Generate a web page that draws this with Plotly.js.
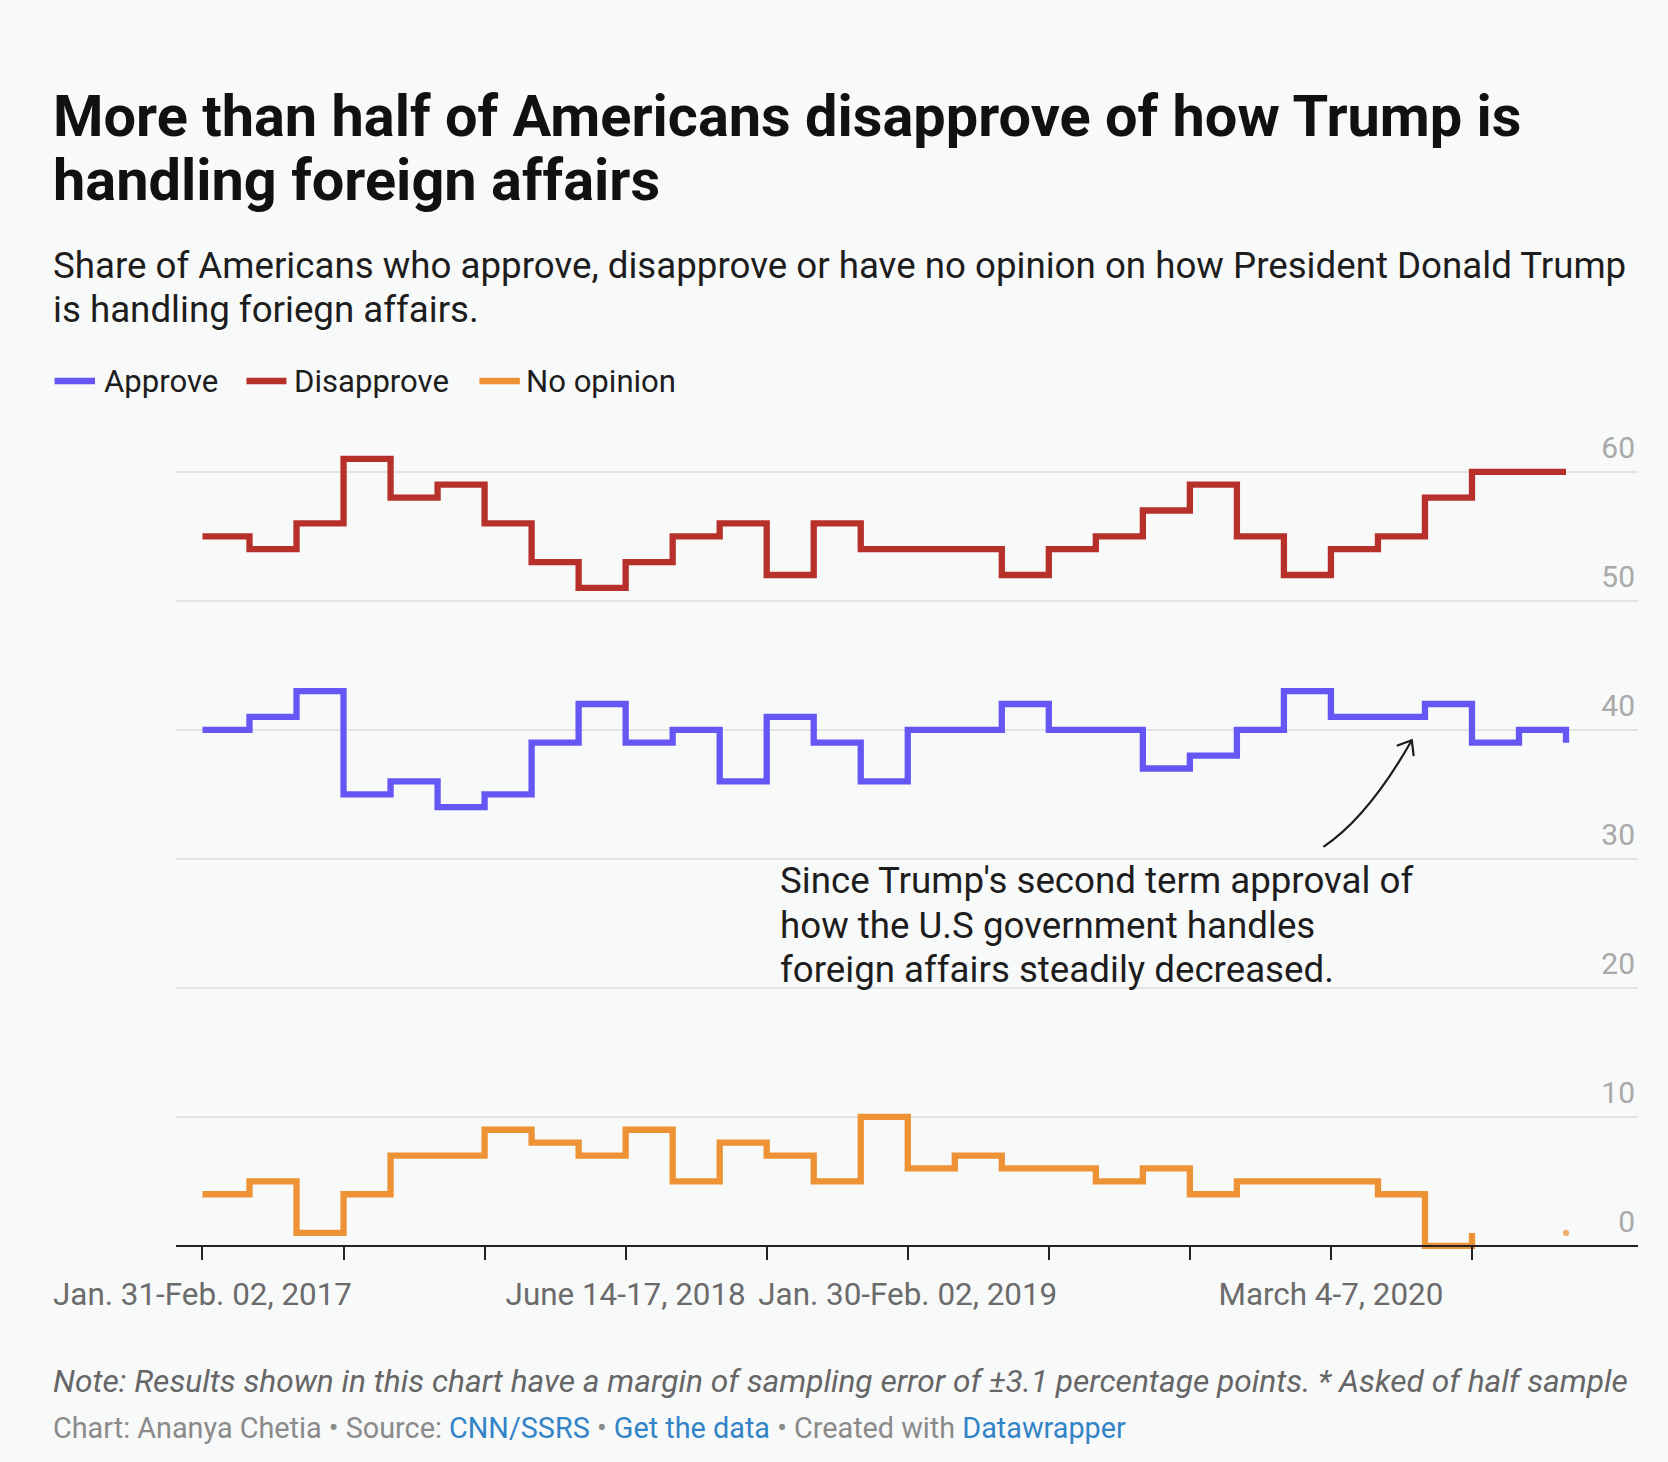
<!DOCTYPE html>
<html>
<head>
<meta charset="utf-8">
<script src="https://cdn.plot.ly/plotly-3.0.1.min.js"></script>
<style>
  html, body { margin: 0; padding: 0; background: #f8f9f9; }
  #chart { width: 1668px; height: 1462px; }
</style>
</head>
<body>
<div id="chart"></div>
<script>
// ---------- data ----------
const pollIndex = [0,1,2,3,4,5,6,7,8,9,10,11,12,13,14,15,16,17,18,19,20,21,22,23,24,25,26,27,28,29];
const approve    = [40,41,43,35,36,34,35,39,42,39,40,36,41,39,36,40,40,42,40,40,37,38,40,43,41,41,42,39,40,39];
const disapprove = [55,54,56,61,58,59,56,53,51,53,55,56,52,56,54,54,54,52,54,55,57,59,55,52,54,55,58,60,60,60];
const noOpinion  = [4,5,1,4,7,7,9,8,7,9,5,8,7,5,10,6,7,6,6,5,6,4,5,5,5,4,0,1,null,1];

const seriesNames  = ['Approve', 'Disapprove', 'No opinion'];
const tickPositions = [0,3,6,9,12,15,18,21,24,27];
const labelPositions = [0,9,15,24];
const labelTexts = ['Jan. 31-Feb. 02, 2017', 'June 14-17, 2018', 'Jan. 30-Feb. 02, 2019', 'March 4-7, 2020'];
const yTickValues = [0,10,20,30,40,50,60];

// ---------- styles ----------
const COLORS = { approve: '#6657f4', disapprove: '#b7302a', noOpinion: '#ed9235' };
const FONT = 'Roboto, "Noto Sans", sans-serif';
const W = 1668, H = 1462;
const M = { l: 175.5, r: 30, t: 445.9, b: 211.1 };
const PW = W - M.l - M.r, PH = H - M.t - M.b;
const yRange = [-0.4, 62];
const xRange = [-0.5633, 30.531];

// pixel -> paper helpers (layout decoration only)
const px = x => (x - M.l) / PW;
const py = y => 1 - (y - M.t) / PH;

const ticktext = tickPositions.map(p => {
  const k = labelPositions.indexOf(p);
  return k >= 0 ? labelTexts[k] : '';
});

// isolated points get a dot (lines alone would not show them)
function isolatedSizes(arr) {
  return arr.map((v, i) => {
    if (v === null) return 0;
    const prev = i > 0 ? arr[i - 1] : null;
    const next = i < arr.length - 1 ? arr[i + 1] : null;
    return (prev === null && next === null) ? 7.5 : 0;
  });
}

const lineW = 6.3;
const traces = [
  { x: pollIndex, y: noOpinion, name: seriesNames[2], mode: 'lines+markers',
    line: { color: COLORS.noOpinion, width: lineW, shape: 'hv' },
    marker: { color: COLORS.noOpinion, size: isolatedSizes(noOpinion) },
    connectgaps: false, hoverinfo: 'skip' },
  { x: pollIndex, y: approve, name: seriesNames[0], mode: 'lines',
    line: { color: COLORS.approve, width: lineW, shape: 'hv' }, hoverinfo: 'skip' },
  { x: pollIndex, y: disapprove, name: seriesNames[1], mode: 'lines',
    line: { color: COLORS.disapprove, width: lineW, shape: 'hv' }, hoverinfo: 'skip' }
];

function textAnn(text, xPix, baselinePix, size, color, opts) {
  opts = opts || {};
  return Object.assign({
    xref: 'paper', yref: 'paper', x: px(xPix), y: py(baselinePix - 0.342 * size),
    xanchor: 'left', yanchor: 'middle', showarrow: false, align: 'left',
    text: text, font: { family: FONT, size: size, color: color }
  }, opts);
}

const gray = '#8a8a8a', blue = '#3383c7';
const annotations = [
  textAnn('<b>More than half of Americans disapprove of how Trump is</b>', 50, 136, 57.7, '#111111'),
  textAnn('<b>handling foreign affairs</b>', 50, 200, 57.7, '#111111'),
  textAnn('Share of Americans who approve, disapprove or have no opinion on how President Donald Trump', 50, 278, 36.7, '#1d1d1d'),
  textAnn('is handling foriegn affairs.', 50, 322, 36.7, '#1d1d1d'),
  // legend texts
  textAnn(seriesNames[0], 101, 392, 31.1, '#1d1d1d'),
  textAnn(seriesNames[1], 291.5, 392, 31.1, '#1d1d1d'),
  textAnn(seriesNames[2], 524, 392, 31.1, '#1d1d1d'),
  // annotation text
  textAnn("Since Trump's second term approval of", 777.5, 893, 36.7, '#1d1d1d'),
  textAnn('how the U.S government handles', 777.5, 937.5, 36.7, '#1d1d1d'),
  textAnn('foreign affairs steadily decreased.', 777.5, 982, 36.7, '#1d1d1d'),
  // footer
  textAnn('<i>Note: Results shown in this chart have a margin of sampling error of ±3.1 percentage points. * Asked of half sample</i>', 50, 1392.5, 31.7, '#666666'),
  textAnn('Chart: Ananya Chetia • Source: <span style="color:' + blue + '">CNN/SSRS</span> • <span style="color:' + blue + '">Get the data</span> • Created with <span style="color:' + blue + '">Datawrapper</span>', 50, 1438, 28.8, gray)
];

function legendSwatch(x0, x1, y, color) {
  return { type: 'line', xref: 'paper', yref: 'paper', x0: px(x0), x1: px(x1), y0: py(y), y1: py(y),
           line: { color: color, width: 6.5 } };
}

const shapes = [
  legendSwatch(54, 94.5, 381, COLORS.approve),
  legendSwatch(246, 286, 381, COLORS.disapprove),
  legendSwatch(479, 519.5, 381, COLORS.noOpinion),
  // curved annotation arrow
  { type: 'path', xref: 'x', yref: 'y', path: 'M 23.84 30.93 Q 24.79 33.23 25.72 39.19',
    line: { color: '#1d1d1d', width: 2.2 } },
  { type: 'path', xref: 'x', yref: 'y', path: 'M 25.40 38.76 L 25.72 39.19 L 25.76 37.96',
    line: { color: '#1d1d1d', width: 2.2 } }
];

const layout = {
  width: W, height: H,
  margin: M,
  paper_bgcolor: '#f8f9f9', plot_bgcolor: '#f8f9f9',
  showlegend: false,
  font: { family: FONT },
  xaxis: {
    type: 'linear', range: xRange, anchor: 'free',
    position: (0 - yRange[0]) / (yRange[1] - yRange[0]),
    tickmode: 'array', tickvals: tickPositions, ticktext: ticktext,
    ticks: 'outside', ticklen: 13, tickwidth: 2, tickcolor: '#222222',
    showline: true, linecolor: '#222222', linewidth: 2,
    showgrid: false, zeroline: false,
    tickfont: { family: FONT, size: 31.4, color: '#6b6b6b' },
    ticklabelstandoff: 7
  },
  yaxis: {
    range: yRange, side: 'right', ticklabelposition: 'inside',
    ticklabeloverflow: 'allow',
    tickmode: 'array', tickvals: yTickValues, ticktext: yTickValues.map(String),
    ticks: '', showgrid: true, gridcolor: '#e4e4e4', gridwidth: 2,
    zeroline: false, showline: false,
    tickfont: { family: FONT, size: 30, color: '#a9a9a9' },
    ticklabelshift: -24
  },
  annotations: annotations,
  shapes: shapes
};

Plotly.newPlot('chart', traces, layout, { staticPlot: true, displayModeBar: false });
</script>
</body>
</html>
